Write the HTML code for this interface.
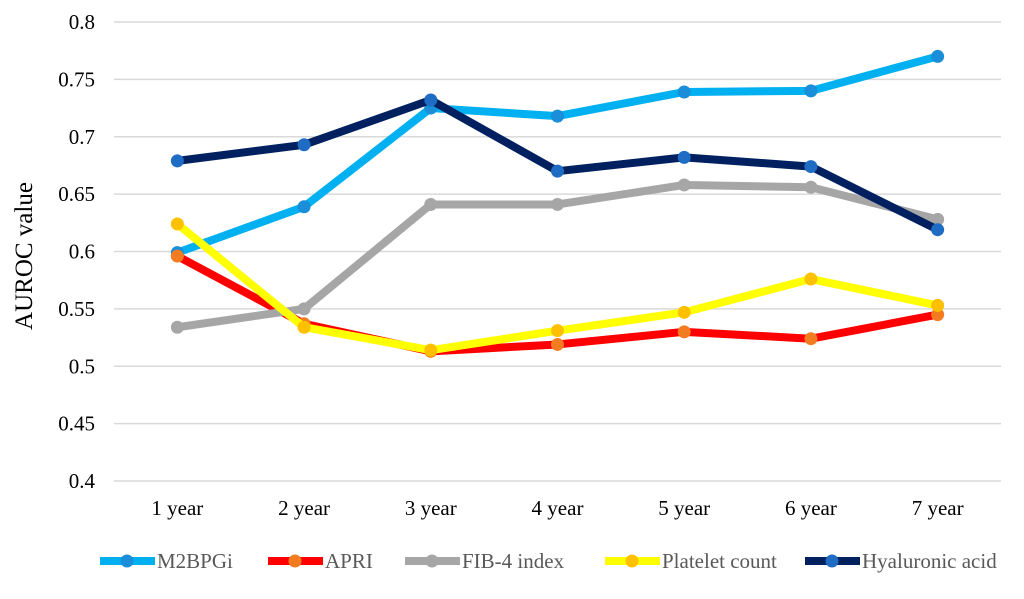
<!DOCTYPE html>
<html><head><meta charset="utf-8"><style>
body{margin:0;background:#fff;}
svg{display:block;}
svg text{font-family:"Liberation Serif",serif;}
</style></head><body>
<svg id="chart" width="1024" height="599"></svg>
<script>
const categories=["1 year","2 year","3 year","4 year","5 year","6 year","7 year"];
const yTicks=[0.4,0.45,0.5,0.55,0.6,0.65,0.7,0.75,0.8];
const yTickLabels=["0.4","0.45","0.5","0.55","0.6","0.65","0.7","0.75","0.8"];
const seriesNames=["M2BPGi","APRI","FIB-4 index","Platelet count","Hyaluronic acid"];
const m2bpgi=[0.599,0.639,0.725,0.718,0.739,0.740,0.770];
const apri=[0.596,0.537,0.513,0.519,0.530,0.524,0.545];
const fib4=[0.534,0.550,0.641,0.641,0.658,0.656,0.628];
const platelet=[0.624,0.534,0.514,0.531,0.547,0.576,0.553];
const hyaluronic=[0.679,0.693,0.732,0.670,0.682,0.674,0.619];

const NS="http://www.w3.org/2000/svg";
const svg=document.getElementById('chart');
const L=114,R=1001,T=22,B=481,yMin=0.4,yMax=0.8;
const xs=i=>L+(R-L)/categories.length*(i+0.5);
const ys=v=>B-(v-yMin)/(yMax-yMin)*(B-T);
function mk(tag,attrs){const e=document.createElementNS(NS,tag);for(const k in attrs)e.setAttribute(k,attrs[k]);svg.appendChild(e);return e;}

yTicks.forEach((t,i)=>{
  const g=mk('line',{x1:L,x2:R,y1:ys(t),y2:ys(t),stroke:'#d9d9d9','stroke-width':1.5});
  
  
  const tx=mk('text',{x:95,y:ys(t)+7,'text-anchor':'end','font-size':21,fill:'#000'});
  tx.textContent=yTickLabels[i];
  
  
});
categories.forEach((c,i)=>{
  const tx=mk('text',{x:xs(i),y:515,'text-anchor':'middle','font-size':21,fill:'#000'});
  tx.textContent=c;
  
  
});
const yt=mk('text',{x:0,y:0,transform:'translate(32,256) rotate(-90)','text-anchor':'middle','font-size':25,fill:'#000'});
yt.textContent='AUROC value';



const data=[m2bpgi,apri,fib4,platelet,hyaluronic];
const lineColors=['#00b0f0','#ff0000','#a6a6a6','#ffff00','#002060'];
const markColors=['#1a8ed8','#f47c20','#a6a6a6','#ffc000','#1f6cc4'];
data.forEach((vals,s)=>{
  const pts=vals.map((v,i)=>xs(i)+','+ys(v)).join(' ');
  const pl=mk('polyline',{points:pts,fill:'none',stroke:lineColors[s],'stroke-width':8,'stroke-linejoin':'round'});
  
  
  vals.forEach((v,i)=>{
    const c=mk('circle',{cx:xs(i),cy:ys(v),r:6.5,fill:markColors[s]});
    
    
  });
});
const legX=[100,268,405,605,805];
seriesNames.forEach((n,s)=>{
  const x=legX[s];
  const ln=mk('line',{x1:x,x2:x+55,y1:561,y2:561,stroke:lineColors[s],'stroke-width':8});
  
  
  const c=mk('circle',{cx:x+27,cy:561,r:6.5,fill:markColors[s]});
  
  
  const tx=mk('text',{x:x+57,y:568,'font-size':21,fill:'#595959'});
  tx.textContent=n;
  
  
});
</script>
</body></html>
